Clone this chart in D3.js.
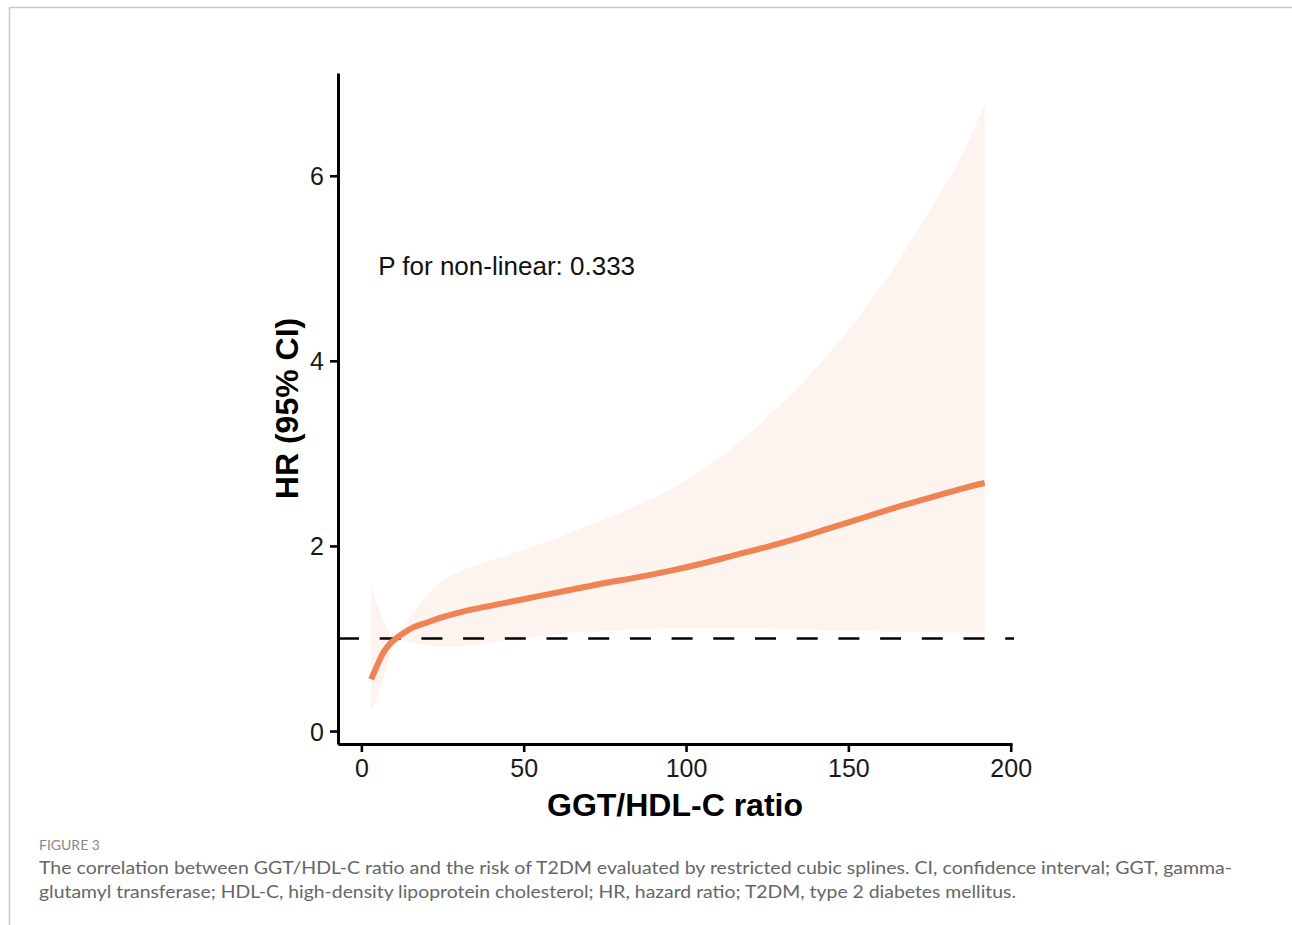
<!DOCTYPE html>
<meta charset="utf-8">
<script src="https://cdn.jsdelivr.net/npm/d3@7"></script>
<style>
  body { margin: 0; background: #fff; }
  svg { display: block; }
</style>
<body>
<div id="vis"></div>
<script>
// GGT/HDL-C ratio grid
const ratio = [3, 5, 7, 9, 11, 13, 16, 20, 25, 30, 35, 45, 55, 65, 75, 85, 95, 105, 115, 125, 135, 145, 155, 165, 175, 185, 192]
// hazard ratio
const hr    = [0.56, 0.72, 0.86, 0.95, 1.01, 1.06, 1.12, 1.17, 1.23, 1.28, 1.32, 1.39, 1.46, 1.53, 1.60, 1.66, 1.73, 1.81, 1.90, 1.99, 2.09, 2.20, 2.31, 2.42, 2.52, 2.62, 2.68]
// 95% CI
const upper = [1.56, 1.36, 1.18, 1.06, 1.04, 1.13, 1.28, 1.45, 1.62, 1.72, 1.79, 1.90, 2.02, 2.15, 2.29, 2.44, 2.61, 2.82, 3.08, 3.39, 3.73, 4.12, 4.56, 5.06, 5.62, 6.22, 6.78]
const lower = [0.20, 0.38, 0.60, 0.84, 0.96, 0.97, 0.95, 0.93, 0.91, 0.91, 0.93, 0.98, 1.03, 1.06, 1.08, 1.10, 1.11, 1.11, 1.11, 1.11, 1.10, 1.09, 1.08, 1.07, 1.07, 1.06, 1.06]

const xTicks = [0, 50, 100, 150, 200]
const yTicks = [0, 2, 4, 6]
const refHR = 1
const pText = "P for non-linear: 0.333"

const data = ratio.map((r, i) => ({x: r, hr: hr[i], lo: lower[i], hi: upper[i]}))

const W = 1292, H = 925
const panel = {left: 338, right: 1012, top: 73, bottom: 744}

const svg = d3.select("#vis").append("svg")
  .attr("width", W).attr("height", H)

// page frame
svg.append("path")
  .attr("d", `M9.5,${H} V7.5 H${W}`)
  .attr("fill", "none")
  .attr("stroke", "#c8c8c8")
  .attr("stroke-width", 1.5)

const x = d3.scaleLinear()
  .domain([-7.2, 200.4])
  .range([panel.left, panel.right])

const y = d3.scaleLinear()
  .domain([-0.14, 7.11])
  .range([panel.bottom, panel.top])

const smooth = d3.curveCatmullRom.alpha(0.5)
const g = svg.append("g")

// confidence band
g.append("path")
  .datum(data)
  .attr("fill", "#fdf3ef")
  .attr("d", d3.area()
    .x(d => x(d.x))
    .y0(d => y(d.lo))
    .y1(d => y(d.hi))
    .curve(smooth))

// reference line HR = 1
g.append("line")
  .attr("x1", panel.left).attr("x2", panel.right + 2)
  .attr("y1", y(refHR)).attr("y2", y(refHR))
  .attr("stroke", "#000")
  .attr("stroke-width", 2.6)
  .attr("stroke-dasharray", "21,20.7")

// spline
g.append("path")
  .datum(data)
  .attr("fill", "none")
  .attr("stroke", "#ef8354")
  .attr("stroke-width", 6)
  .attr("d", d3.line()
    .x(d => x(d.x))
    .y(d => y(d.hr))
    .curve(smooth))

// axes
const xAxis = svg.append("g")
  .attr("transform", `translate(0,${panel.bottom})`)
  .call(d3.axisBottom(x).tickValues(xTicks).tickSize(8).tickSizeOuter(0).tickPadding(6))
const yAxis = svg.append("g")
  .attr("transform", `translate(${panel.left},0)`)
  .call(d3.axisLeft(y).tickValues(yTicks).tickSize(8).tickSizeOuter(0).tickPadding(6))

for (const ax of [xAxis, yAxis]) {
  ax.select(".domain").attr("stroke", "#000").attr("stroke-width", 3)
  ax.selectAll(".tick line").attr("stroke", "#000").attr("stroke-width", 2.6)
  ax.selectAll(".tick text")
    .attr("fill", "#1a1a1a")
    .style("font-family", "'Liberation Sans', Arial, sans-serif")
    .style("font-size", "25px")
}
xAxis.selectAll(".tick text").attr("dy", "0.75em")
yAxis.selectAll(".tick text").attr("dy", "0.36em")

// axis titles
svg.append("text")
  .attr("x", (panel.left + panel.right) / 2)
  .attr("y", 816)
  .attr("text-anchor", "middle")
  .style("font-family", "'Liberation Sans', Arial, sans-serif")
  .style("font-weight", "bold")
  .style("font-size", "32px")
  .text("GGT/HDL-C ratio")

svg.append("text")
  .attr("transform", `translate(298,${(panel.top + panel.bottom) / 2}) rotate(-90)`)
  .attr("text-anchor", "middle")
  .style("font-family", "'Liberation Sans', Arial, sans-serif")
  .style("font-weight", "bold")
  .style("font-size", "32px")
  .text("HR (95% CI)")

// annotation
svg.append("text")
  .attr("x", x(5.2))
  .attr("y", y(5.03))
  .attr("dy", "0.36em")
  .style("font-family", "'Liberation Sans', Arial, sans-serif")
  .style("font-size", "26px")
  .attr("fill", "#111")
  .text(pText)

// caption
const cap = svg.append("g")
  .style("font-family", "Lato, 'Open Sans', sans-serif")
cap.append("text")
  .attr("x", 39).attr("y", 850)
  .attr("fill", "#888")
  .style("font-size", "14px")
  .text("FIGURE 3")
cap.append("text")
  .attr("x", 39).attr("y", 874)
  .attr("fill", "#666")
  .style("font-size", "18px")
  .attr("textLength", 1193)
  .attr("lengthAdjust", "spacingAndGlyphs")
  .text("The correlation between GGT/HDL-C ratio and the risk of T2DM evaluated by restricted cubic splines. CI, confidence interval; GGT, gamma-")
cap.append("text")
  .attr("x", 39).attr("y", 898)
  .attr("fill", "#666")
  .style("font-size", "18px")
  .attr("textLength", 977)
  .attr("lengthAdjust", "spacingAndGlyphs")
  .text("glutamyl transferase; HDL-C, high-density lipoprotein cholesterol; HR, hazard ratio; T2DM, type 2 diabetes mellitus.")
</script>
</body>
